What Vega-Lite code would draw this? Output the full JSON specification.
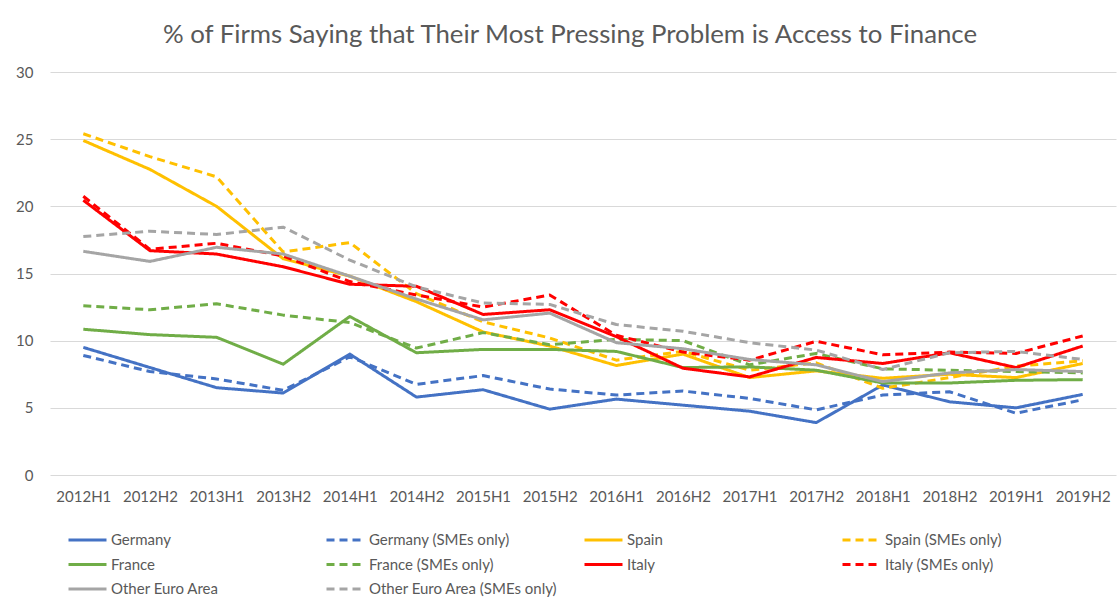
{
  "$schema": "https://vega.github.io/schema/vega-lite/v6.json",
  "width": 1066,
  "height": 403,
  "autosize": {"type": "none"},
  "padding": {"left": 50, "top": 72, "right": 4, "bottom": 130},
  "background": "white",
  "title": {"text": "% of Firms Saying that Their Most Pressing Problem is Access to Finance", "fontSize": 25.8, "font": "Lato", "fontWeight": "normal", "color": "#595959", "anchor": "middle", "offset": 16, "dx": -13},
  "datasets": {
    "main": [
      {"period":"2012H1","series":"Germany","value":9.5},{"period":"2012H2","series":"Germany","value":8.0},{"period":"2013H1","series":"Germany","value":6.5},{"period":"2013H2","series":"Germany","value":6.1},{"period":"2014H1","series":"Germany","value":9.0},{"period":"2014H2","series":"Germany","value":5.8},{"period":"2015H1","series":"Germany","value":6.35},{"period":"2015H2","series":"Germany","value":4.9},{"period":"2016H1","series":"Germany","value":5.65},{"period":"2016H2","series":"Germany","value":5.2},{"period":"2017H1","series":"Germany","value":4.75},{"period":"2017H2","series":"Germany","value":3.9},{"period":"2018H1","series":"Germany","value":6.7},{"period":"2018H2","series":"Germany","value":5.45},{"period":"2019H1","series":"Germany","value":5.0},{"period":"2019H2","series":"Germany","value":6.0},
      {"period":"2012H1","series":"Germany (SMEs only)","value":8.9},{"period":"2012H2","series":"Germany (SMEs only)","value":7.7},{"period":"2013H1","series":"Germany (SMEs only)","value":7.15},{"period":"2013H2","series":"Germany (SMEs only)","value":6.3},{"period":"2014H1","series":"Germany (SMEs only)","value":8.8},{"period":"2014H2","series":"Germany (SMEs only)","value":6.75},{"period":"2015H1","series":"Germany (SMEs only)","value":7.4},{"period":"2015H2","series":"Germany (SMEs only)","value":6.4},{"period":"2016H1","series":"Germany (SMEs only)","value":5.95},{"period":"2016H2","series":"Germany (SMEs only)","value":6.25},{"period":"2017H1","series":"Germany (SMEs only)","value":5.7},{"period":"2017H2","series":"Germany (SMEs only)","value":4.85},{"period":"2018H1","series":"Germany (SMEs only)","value":5.95},{"period":"2018H2","series":"Germany (SMEs only)","value":6.2},{"period":"2019H1","series":"Germany (SMEs only)","value":4.6},{"period":"2019H2","series":"Germany (SMEs only)","value":5.6},
      {"period":"2012H1","series":"Spain","value":24.9},{"period":"2012H2","series":"Spain","value":22.75},{"period":"2013H1","series":"Spain","value":20.0},{"period":"2013H2","series":"Spain","value":16.1},{"period":"2014H1","series":"Spain","value":14.8},{"period":"2014H2","series":"Spain","value":12.9},{"period":"2015H1","series":"Spain","value":10.65},{"period":"2015H2","series":"Spain","value":9.6},{"period":"2016H1","series":"Spain","value":8.15},{"period":"2016H2","series":"Spain","value":9.0},{"period":"2017H1","series":"Spain","value":7.25},{"period":"2017H2","series":"Spain","value":7.75},{"period":"2018H1","series":"Spain","value":7.2},{"period":"2018H2","series":"Spain","value":7.5},{"period":"2019H1","series":"Spain","value":7.25},{"period":"2019H2","series":"Spain","value":8.3},
      {"period":"2012H1","series":"Spain (SMEs only)","value":25.4},{"period":"2012H2","series":"Spain (SMEs only)","value":23.7},{"period":"2013H1","series":"Spain (SMEs only)","value":22.2},{"period":"2013H2","series":"Spain (SMEs only)","value":16.6},{"period":"2014H1","series":"Spain (SMEs only)","value":17.3},{"period":"2014H2","series":"Spain (SMEs only)","value":13.5},{"period":"2015H1","series":"Spain (SMEs only)","value":11.4},{"period":"2015H2","series":"Spain (SMEs only)","value":10.2},{"period":"2016H1","series":"Spain (SMEs only)","value":8.55},{"period":"2016H2","series":"Spain (SMEs only)","value":9.2},{"period":"2017H1","series":"Spain (SMEs only)","value":7.8},{"period":"2017H2","series":"Spain (SMEs only)","value":8.35},{"period":"2018H1","series":"Spain (SMEs only)","value":6.45},{"period":"2018H2","series":"Spain (SMEs only)","value":7.25},{"period":"2019H1","series":"Spain (SMEs only)","value":8.1},{"period":"2019H2","series":"Spain (SMEs only)","value":8.5},
      {"period":"2012H1","series":"France","value":10.85},{"period":"2012H2","series":"France","value":10.45},{"period":"2013H1","series":"France","value":10.25},{"period":"2013H2","series":"France","value":8.25},{"period":"2014H1","series":"France","value":11.8},{"period":"2014H2","series":"France","value":9.1},{"period":"2015H1","series":"France","value":9.35},{"period":"2015H2","series":"France","value":9.35},{"period":"2016H1","series":"France","value":9.2},{"period":"2016H2","series":"France","value":8.0},{"period":"2017H1","series":"France","value":8.05},{"period":"2017H2","series":"France","value":7.8},{"period":"2018H1","series":"France","value":6.85},{"period":"2018H2","series":"France","value":6.85},{"period":"2019H1","series":"France","value":7.05},{"period":"2019H2","series":"France","value":7.1},
      {"period":"2012H1","series":"France (SMEs only)","value":12.6},{"period":"2012H2","series":"France (SMEs only)","value":12.3},{"period":"2013H1","series":"France (SMEs only)","value":12.75},{"period":"2013H2","series":"France (SMEs only)","value":11.9},{"period":"2014H1","series":"France (SMEs only)","value":11.35},{"period":"2014H2","series":"France (SMEs only)","value":9.45},{"period":"2015H1","series":"France (SMEs only)","value":10.6},{"period":"2015H2","series":"France (SMEs only)","value":9.7},{"period":"2016H1","series":"France (SMEs only)","value":10.1},{"period":"2016H2","series":"France (SMEs only)","value":10.0},{"period":"2017H1","series":"France (SMEs only)","value":8.2},{"period":"2017H2","series":"France (SMEs only)","value":9.05},{"period":"2018H1","series":"France (SMEs only)","value":7.9},{"period":"2018H2","series":"France (SMEs only)","value":7.8},{"period":"2019H1","series":"France (SMEs only)","value":7.7},{"period":"2019H2","series":"France (SMEs only)","value":7.6},
      {"period":"2012H1","series":"Italy","value":20.45},{"period":"2012H2","series":"Italy","value":16.7},{"period":"2013H1","series":"Italy","value":16.45},{"period":"2013H2","series":"Italy","value":15.5},{"period":"2014H1","series":"Italy","value":14.2},{"period":"2014H2","series":"Italy","value":14.05},{"period":"2015H1","series":"Italy","value":11.95},{"period":"2015H2","series":"Italy","value":12.3},{"period":"2016H1","series":"Italy","value":10.3},{"period":"2016H2","series":"Italy","value":7.95},{"period":"2017H1","series":"Italy","value":7.3},{"period":"2017H2","series":"Italy","value":8.75},{"period":"2018H1","series":"Italy","value":8.3},{"period":"2018H2","series":"Italy","value":9.1},{"period":"2019H1","series":"Italy","value":8.0},{"period":"2019H2","series":"Italy","value":9.6},
      {"period":"2012H1","series":"Italy (SMEs only)","value":20.75},{"period":"2012H2","series":"Italy (SMEs only)","value":16.8},{"period":"2013H1","series":"Italy (SMEs only)","value":17.25},{"period":"2013H2","series":"Italy (SMEs only)","value":16.3},{"period":"2014H1","series":"Italy (SMEs only)","value":14.4},{"period":"2014H2","series":"Italy (SMEs only)","value":13.4},{"period":"2015H1","series":"Italy (SMEs only)","value":12.5},{"period":"2015H2","series":"Italy (SMEs only)","value":13.4},{"period":"2016H1","series":"Italy (SMEs only)","value":10.4},{"period":"2016H2","series":"Italy (SMEs only)","value":9.15},{"period":"2017H1","series":"Italy (SMEs only)","value":8.55},{"period":"2017H2","series":"Italy (SMEs only)","value":9.95},{"period":"2018H1","series":"Italy (SMEs only)","value":8.95},{"period":"2018H2","series":"Italy (SMEs only)","value":9.15},{"period":"2019H1","series":"Italy (SMEs only)","value":9.05},{"period":"2019H2","series":"Italy (SMEs only)","value":10.35},
      {"period":"2012H1","series":"Other Euro Area","value":16.65},{"period":"2012H2","series":"Other Euro Area","value":15.9},{"period":"2013H1","series":"Other Euro Area","value":16.95},{"period":"2013H2","series":"Other Euro Area","value":16.45},{"period":"2014H1","series":"Other Euro Area","value":14.8},{"period":"2014H2","series":"Other Euro Area","value":13.1},{"period":"2015H1","series":"Other Euro Area","value":11.55},{"period":"2015H2","series":"Other Euro Area","value":12.05},{"period":"2016H1","series":"Other Euro Area","value":9.85},{"period":"2016H2","series":"Other Euro Area","value":9.4},{"period":"2017H1","series":"Other Euro Area","value":8.6},{"period":"2017H2","series":"Other Euro Area","value":8.2},{"period":"2018H1","series":"Other Euro Area","value":6.95},{"period":"2018H2","series":"Other Euro Area","value":7.6},{"period":"2019H1","series":"Other Euro Area","value":7.85},{"period":"2019H2","series":"Other Euro Area","value":7.7},
      {"period":"2012H1","series":"Other Euro Area (SMEs only)","value":17.75},{"period":"2012H2","series":"Other Euro Area (SMEs only)","value":18.15},{"period":"2013H1","series":"Other Euro Area (SMEs only)","value":17.9},{"period":"2013H2","series":"Other Euro Area (SMEs only)","value":18.45},{"period":"2014H1","series":"Other Euro Area (SMEs only)","value":16.0},{"period":"2014H2","series":"Other Euro Area (SMEs only)","value":14.0},{"period":"2015H1","series":"Other Euro Area (SMEs only)","value":12.8},{"period":"2015H2","series":"Other Euro Area (SMEs only)","value":12.7},{"period":"2016H1","series":"Other Euro Area (SMEs only)","value":11.2},{"period":"2016H2","series":"Other Euro Area (SMEs only)","value":10.7},{"period":"2017H1","series":"Other Euro Area (SMEs only)","value":9.85},{"period":"2017H2","series":"Other Euro Area (SMEs only)","value":9.3},{"period":"2018H1","series":"Other Euro Area (SMEs only)","value":7.85},{"period":"2018H2","series":"Other Euro Area (SMEs only)","value":9.1},{"period":"2019H1","series":"Other Euro Area (SMEs only)","value":9.2},{"period":"2019H2","series":"Other Euro Area (SMEs only)","value":8.6}
    ]
  },
  "data": {"name": "main"},
  "mark": {"type": "line", "strokeWidth": 3, "strokeJoin": "round"},
  "encoding": {
    "x": {"field": "period", "type": "ordinal", "scale": {"type": "point", "padding": 0.5},
      "axis": {"title": null, "labelAngle": 0, "domain": false, "ticks": false, "grid": false, "labelPadding": 14, "labelFontSize": 15, "labelColor": "#595959", "labelFont": "Lato"}},
    "y": {"field": "value", "type": "quantitative", "scale": {"domain": [0, 30]},
      "axis": {"title": null, "values": [0, 5, 10, 15, 20, 25, 30], "domain": false, "ticks": false, "gridColor": "#d9d9d9", "gridWidth": 1, "labelPadding": 17, "labelFontSize": 15, "labelColor": "#595959", "labelFont": "Lato"}},
    "color": {"field": "series", "type": "nominal",
      "scale": {"domain": ["Germany", "Germany (SMEs only)", "Spain", "Spain (SMEs only)", "France", "France (SMEs only)", "Italy", "Italy (SMEs only)", "Other Euro Area", "Other Euro Area (SMEs only)"],
        "range": ["#4472C4", "#4472C4", "#FFC000", "#FFC000", "#70AD47", "#70AD47", "#FF0000", "#FF0000", "#A5A5A5", "#A5A5A5"]},
      "legend": {"title": null}},
    "strokeDash": {"field": "series", "type": "nominal",
      "scale": {"domain": ["Germany", "Germany (SMEs only)", "Spain", "Spain (SMEs only)", "France", "France (SMEs only)", "Italy", "Italy (SMEs only)", "Other Euro Area", "Other Euro Area (SMEs only)"],
        "range": [[1, 0], [8, 5], [1, 0], [8, 5], [1, 0], [8, 5], [1, 0], [8, 5], [1, 0], [8, 5]]},
      "legend": {"title": null}}
  },
  "config": {
    "view": {"stroke": null},
    "legend": {"orient": "none", "direction": "horizontal", "legendX": 17, "legendY": 457, "columns": 4, "gridAlign": "all", "columnPadding": 20, "rowPadding": 5.5,
      "symbolType": "M-1,0H3", "symbolSize": 361, "symbolStrokeWidth": 3, "labelFontSize": 15, "labelColor": "#595959", "labelFont": "Lato", "labelOffset": 22, "labelLimit": 300}
  }
}
